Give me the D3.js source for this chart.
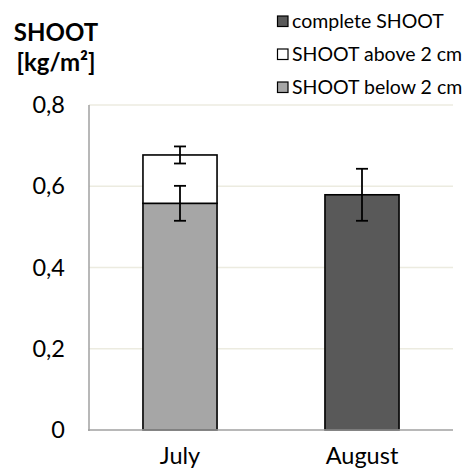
<!DOCTYPE html>
<html>
<head>
<meta charset="utf-8">
<script src="https://cdn.jsdelivr.net/npm/d3@7"></script>
<style>
  html, body { margin: 0; padding: 0; background: #fff; }
  svg { display: block; font-family: Lato, "Open Sans", sans-serif; }
</style>
</head>
<body>
<svg id="chart" width="464" height="468"></svg>
<script>
// Shoot biomass per month, kg/m²
const months = ["July", "August"];
const belowValues = [0.558, null];      // SHOOT below 2 cm
const aboveValues = [0.119, null];      // SHOOT above 2 cm (stacked on top)
const completeValues = [null, 0.579];   // complete SHOOT
const belowErrors = [0.043, null];
const totalErrors = [0.021, 0.064];
const yTicks = [0, 0.2, 0.4, 0.6, 0.8];
const legendLabels = ["complete SHOOT", "SHOOT above 2 cm", "SHOOT below 2 cm"];
const legendColors = ["#595959", "#ffffff", "#a6a6a6"];

const svg = d3.select("#chart");
const plot = { left: 89, right: 453, top: 105, bottom: 430 };

const x = d3.scaleBand().domain(months).range([plot.left, plot.right]).paddingInner(0.593).paddingOuter(0.2965);
const y = d3.scaleLinear().domain([0, 0.8]).range([plot.bottom, plot.top]);
const fmt = v => v === 0 ? "0" : d3.format(".1f")(v).replace(".", ",");

// gridlines
svg.append("g").selectAll("line").data(yTicks.filter(t => t > 0)).join("line")
  .attr("x1", plot.left).attr("x2", plot.right)
  .attr("y1", d => y(d)).attr("y2", d => y(d))
  .attr("stroke", "#ecebe0").attr("stroke-width", 1.5);

// y axis labels
const yAxis = d3.axisLeft(y).tickValues(yTicks).tickFormat(fmt).tickSize(0).tickPadding(24);
const gy = svg.append("g").attr("transform", `translate(${plot.left},0)`).call(yAxis);
gy.select(".domain").remove();
gy.selectAll("text").attr("font-size", 23.5).attr("fill", "#000").attr("font-family", "Lato, sans-serif");

// bars
const bars = svg.append("g").attr("stroke", "#000").attr("stroke-width", 1.6);
months.forEach((m, i) => {
  const x0 = x(m), w = x.bandwidth();
  if (belowValues[i] != null) {
    bars.append("rect").attr("x", x0).attr("width", w)
      .attr("y", y(belowValues[i])).attr("height", y(0) - y(belowValues[i]))
      .attr("fill", legendColors[2]);
    const top = belowValues[i] + aboveValues[i];
    bars.append("rect").attr("x", x0).attr("width", w)
      .attr("y", y(top)).attr("height", y(belowValues[i]) - y(top))
      .attr("fill", legendColors[1]);
  }
  if (completeValues[i] != null) {
    bars.append("rect").attr("x", x0).attr("width", w)
      .attr("y", y(completeValues[i])).attr("height", y(0) - y(completeValues[i]))
      .attr("fill", legendColors[0]);
  }
});

// axis lines
svg.append("line").attr("x1", plot.left).attr("x2", plot.left)
  .attr("y1", plot.top).attr("y2", plot.bottom + 1)
  .attr("stroke", "#a0a0a0").attr("stroke-width", 1.5);
svg.append("line").attr("x1", plot.left - 1).attr("x2", plot.right)
  .attr("y1", plot.bottom).attr("y2", plot.bottom)
  .attr("stroke", "#a0a0a0").attr("stroke-width", 1.5);

// error bars
const errs = svg.append("g").attr("stroke", "#000").attr("stroke-width", 1.8);
function errorBar(cx, v, e) {
  const cap = 6;
  errs.append("line").attr("x1", cx).attr("x2", cx).attr("y1", y(v + e)).attr("y2", y(v - e));
  errs.append("line").attr("x1", cx - cap).attr("x2", cx + cap).attr("y1", y(v + e)).attr("y2", y(v + e));
  errs.append("line").attr("x1", cx - cap).attr("x2", cx + cap).attr("y1", y(v - e)).attr("y2", y(v - e));
}
months.forEach((m, i) => {
  const cx = x(m) + x.bandwidth() / 2;
  if (belowValues[i] != null) {
    errorBar(cx, belowValues[i], belowErrors[i]);
    errorBar(cx, belowValues[i] + aboveValues[i], totalErrors[i]);
  } else {
    errorBar(cx, completeValues[i], totalErrors[i]);
  }
});

// x labels
svg.append("g").selectAll("text").data(months).join("text")
  .attr("x", d => x(d) + x.bandwidth() / 2).attr("y", 464)
  .attr("text-anchor", "middle").attr("font-size", 23.5).text(d => d);

// axis title
const title = svg.append("text").attr("text-anchor", "middle").attr("font-weight", "bold").attr("font-size", 24);
title.append("tspan").attr("x", 56).attr("y", 41).text("SHOOT");
title.append("tspan").attr("x", 56).attr("y", 71).text("[kg/m²]");

// legend
const legend = svg.append("g").selectAll("g").data(legendLabels).join("g")
  .attr("transform", (d, i) => `translate(277, ${21 + i * 33})`);
legend.append("rect").attr("x", 0.5).attr("y", -5).attr("width", 10.5).attr("height", 10.5)
  .attr("fill", (d, i) => legendColors[i]).attr("stroke", "#000").attr("stroke-width", 1.2);
legend.append("text").attr("x", 15).attr("y", 0).attr("dy", "0.38em")
  .attr("font-size", 19.5).text(d => d);
</script>
</body>
</html>
